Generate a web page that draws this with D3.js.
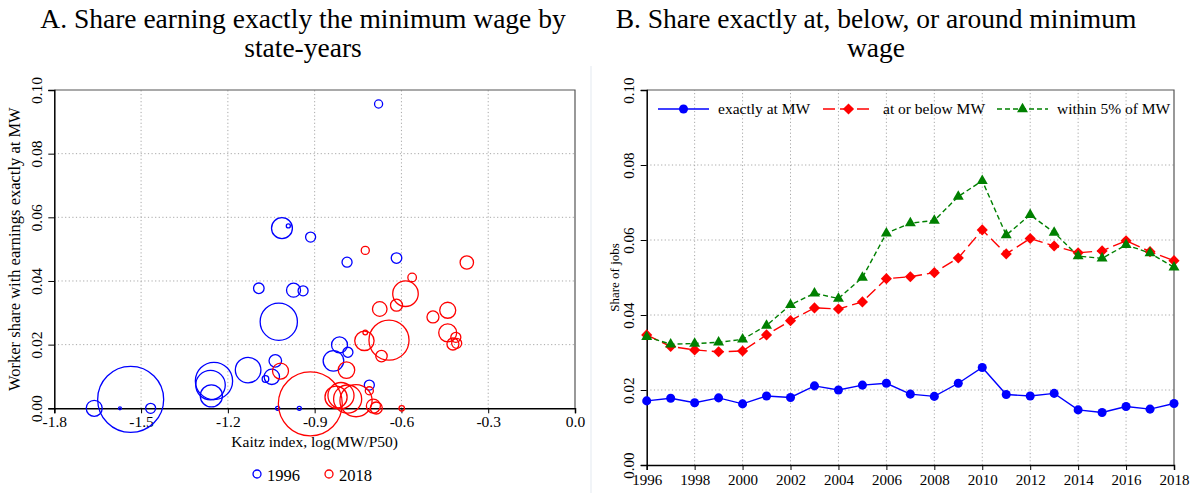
<!DOCTYPE html>
<html>
<head>
<meta charset="utf-8">
<script src="https://cdn.jsdelivr.net/npm/d3@7"></script>
<style>
  body { margin: 0; background: #fff; }
  text { font-family: "Liberation Serif", "Times New Roman", serif; fill: #000; }
</style>
</head>
<body>
<svg id="chart" width="1201" height="493"></svg>
<script>
// Panel A: state-years, kaitz index vs share exactly at MW, bubble = employment weight
var kaitz1996 = [-1.662, -1.536, -1.573, -1.467, -1.248, -1.260, -1.257, -1.130, -1.093, -1.036, -1.048, -1.070, -1.024, -0.973, -0.940, -1.013, -0.991, -0.914, -0.788, -0.617, -0.679, -0.814, -0.785, -0.835, -0.711, -1.028, -0.953];
var share1996 = [0.0000, 0.0028, 0.0000, 0.0000, 0.0086, 0.0073, 0.0039, 0.0120, 0.0377, 0.0149, 0.0099, 0.0092, 0.0272, 0.0371, 0.0369, 0.0566, 0.0573, 0.0538, 0.0459, 0.0472, 0.0956, 0.0199, 0.0176, 0.0149, 0.0073, 0.0000, 0.0000];
var emp1996 = [0.94, 16, 0.03, 0.37, 5.1, 3.2, 1.8, 2.4, 0.41, 0.58, 0.87, 0.16, 5.1, 0.72, 0.37, 1.6, 0.06, 0.37, 0.37, 0.41, 0.24, 0.94, 0.37, 1.56, 0.37, 0.06, 0.06];

var kaitz2018 = [-1.018, -0.915, -0.826, -0.809, -0.786, -0.757, -0.790, -0.711, -0.697, -0.687, -0.599, -0.669, -0.728, -0.725, -0.643, -0.675, -0.617, -0.586, -0.563, -0.725, -0.374, -0.491, -0.440, -0.440, -0.412, -0.422, -0.409];
var share2018 = [0.0117, 0.0014, 0.0035, 0.0040, 0.0029, 0.0024, 0.0120, 0.0055, 0.0007, 0.0001, 0.0000, 0.0164, 0.0212, 0.0238, 0.0214, 0.0312, 0.0324, 0.0360, 0.0411, 0.0496, 0.0458, 0.0287, 0.0308, 0.0237, 0.0223, 0.0202, 0.0204];
var emp2018 = [0.94, 15, 1.8, 2.5, 2.9, 3.8, 1.0, 0.24, 0.72, 0.53, 0.11, 0.48, 1.38, 0.08, 5.9, 0.78, 0.53, 2.4, 0.27, 0.24, 0.66, 0.53, 0.94, 1.19, 0.37, 0.53, 0.37];

var xTicksA = [-1.8, -1.5, -1.2, -0.9, -0.6, -0.3, 0.0];
var yTicksA = [0, 0.02, 0.04, 0.06, 0.08, 0.10];

// Panel B: yearly shares
var years = [1996, 1997, 1998, 1999, 2000, 2001, 2002, 2003, 2004, 2005, 2006, 2007, 2008, 2009, 2010, 2011, 2012, 2013, 2014, 2015, 2016, 2017, 2018];
var exactlyAt = [0.0171, 0.0178, 0.0166, 0.0179, 0.0163, 0.0184, 0.0180, 0.0211, 0.0200, 0.0213, 0.0218, 0.0189, 0.0183, 0.0218, 0.0260, 0.0188, 0.0184, 0.0191, 0.0147, 0.0140, 0.0156, 0.0149, 0.0164];
var atOrBelow = [0.0347, 0.0316, 0.0307, 0.0302, 0.0304, 0.0347, 0.0385, 0.0419, 0.0416, 0.0435, 0.0497, 0.0502, 0.0513, 0.0552, 0.0627, 0.0563, 0.0604, 0.0584, 0.0566, 0.0571, 0.0598, 0.0569, 0.0545];
var within5 = [0.0342, 0.0322, 0.0324, 0.0327, 0.0335, 0.0372, 0.0427, 0.0458, 0.0444, 0.0500, 0.0618, 0.0645, 0.0652, 0.0716, 0.0758, 0.0613, 0.0667, 0.0620, 0.0557, 0.0551, 0.0587, 0.0565, 0.0527];
var xTicksB = [1996, 1998, 2000, 2002, 2004, 2006, 2008, 2010, 2012, 2014, 2016, 2018];
var yTicksB = [0, 0.02, 0.04, 0.06, 0.08, 0.10];

var svg = d3.select("#chart");

// ---------- Panel A ----------
var xA = d3.scaleLinear().domain([-1.8, 0]).range([54.3, 575]);
var yA = d3.scaleLinear().domain([0, 0.1]).range([408.3, 90]);
var rA = d3.scaleSqrt().domain([0, 16]).range([0, 33]);

var gA = svg.append("g");

// dotted grid
gA.append("g").selectAll("line")
  .data(xTicksA.slice(1, -1))
  .enter().append("line")
    .attr("x1", function (d) { return xA(d); })
    .attr("x2", function (d) { return xA(d); })
    .attr("y1", yA(0)).attr("y2", yA(0.1))
    .attr("stroke", "#a8a8a8").attr("stroke-dasharray", "1.2,2.4");
gA.append("g").selectAll("line")
  .data(yTicksA.slice(1, -1))
  .enter().append("line")
    .attr("y1", function (d) { return yA(d); })
    .attr("y2", function (d) { return yA(d); })
    .attr("x1", xA(-1.8)).attr("x2", xA(0))
    .attr("stroke", "#a8a8a8").attr("stroke-dasharray", "1.2,2.4");

// frame top/right
gA.append("path")
  .attr("d", "M" + xA(-1.8) + "," + yA(0.1) + "H" + xA(0) + "V" + yA(0))
  .attr("fill", "none").attr("stroke", "#555").attr("stroke-width", 1.2);

// axes
var axA = gA.append("g")
  .attr("transform", "translate(0," + yA(0) + ")")
  .call(d3.axisBottom(xA).tickValues(xTicksA).tickSize(5).tickPadding(3)
    .tickFormat(function (d) { return d.toFixed(1); }));
var ayA = gA.append("g")
  .attr("transform", "translate(" + xA(-1.8) + ",0)")
  .call(d3.axisLeft(yA).tickValues(yTicksA).tickSize(6)
    .tickFormat(function (d) { return d.toFixed(2); }));
ayA.selectAll(".tick text")
  .attr("transform", "rotate(-90)")
  .attr("x", 0).attr("y", -12).attr("dy", 0)
  .attr("text-anchor", "middle");
gA.selectAll(".tick text").style("font-size", "15.5px");

// bubbles
gA.append("g").selectAll("circle")
  .data(d3.range(kaitz1996.length))
  .enter().append("circle")
    .attr("cx", function (i) { return xA(kaitz1996[i]); })
    .attr("cy", function (i) { return yA(share1996[i]); })
    .attr("r", function (i) { return rA(emp1996[i]); })
    .attr("fill", "none").attr("stroke", "#0000ff").attr("stroke-width", 1.3);
gA.append("g").selectAll("circle")
  .data(d3.range(kaitz2018.length))
  .enter().append("circle")
    .attr("cx", function (i) { return xA(kaitz2018[i]); })
    .attr("cy", function (i) { return yA(share2018[i]); })
    .attr("r", function (i) { return rA(emp2018[i]); })
    .attr("fill", "none").attr("stroke", "#ff0000").attr("stroke-width", 1.3);

// axis labels
gA.append("text")
  .attr("transform", "translate(20," + (yA(0) + yA(0.1)) / 2 + ") rotate(-90)")
  .attr("text-anchor", "middle").style("font-size", "16.5px")
  .text("Worker share with earnings exactly at MW");
gA.append("text")
  .attr("x", (xA(-1.8) + xA(0)) / 2).attr("y", 447)
  .attr("text-anchor", "middle").style("font-size", "15.5px")
  .text("Kaitz index, log(MW/P50)");

// legend
var legA = [{ label: "1996", color: "#0000ff", x: 257 }, { label: "2018", color: "#ff0000", x: 329 }];
legA.forEach(function (l) {
  gA.append("circle").attr("cx", l.x).attr("cy", 474).attr("r", 4)
    .attr("fill", "none").attr("stroke", l.color).attr("stroke-width", 1.3);
  gA.append("text").attr("x", l.x + 10).attr("y", 481).style("font-size", "16.5px").text(l.label);
});

// title
var tA = gA.append("text").attr("text-anchor", "middle").style("font-size", "27.5px");
tA.append("tspan").attr("x", 303).attr("y", 28).text("A. Share earning exactly the minimum wage by");
tA.append("tspan").attr("x", 303).attr("y", 57).text("state-years");

// ---------- Panel B ----------
var xB = d3.scaleLinear().domain([1996, 2018]).range([646.7, 1174]);
var yB = d3.scaleLinear().domain([0, 0.1]).range([465, 90]);

var gB = svg.append("g");

gB.append("line").attr("x1", 591).attr("x2", 591).attr("y1", 66).attr("y2", 493)
  .attr("stroke", "#e3e9f0");

gB.append("g").selectAll("line")
  .data(xTicksB.slice(1, -1))
  .enter().append("line")
    .attr("x1", function (d) { return xB(d); })
    .attr("x2", function (d) { return xB(d); })
    .attr("y1", yB(0)).attr("y2", yB(0.1))
    .attr("stroke", "#a8a8a8").attr("stroke-dasharray", "1.2,2.4");
gB.append("g").selectAll("line")
  .data(yTicksB.slice(1, -1))
  .enter().append("line")
    .attr("y1", function (d) { return yB(d); })
    .attr("y2", function (d) { return yB(d); })
    .attr("x1", xB(1996)).attr("x2", xB(2018))
    .attr("stroke", "#a8a8a8").attr("stroke-dasharray", "1.2,2.4");

gB.append("path")
  .attr("d", "M" + xB(1996) + "," + yB(0.1) + "H" + xB(2018) + "V" + yB(0))
  .attr("fill", "none").attr("stroke", "#555").attr("stroke-width", 1.2);

gB.append("g")
  .attr("transform", "translate(0," + yB(0) + ")")
  .call(d3.axisBottom(xB).tickValues(xTicksB).tickSize(5).tickPadding(4)
    .tickFormat(d3.format("d")));
var ayB = gB.append("g")
  .attr("transform", "translate(" + xB(1996) + ",0)")
  .call(d3.axisLeft(yB).tickValues(yTicksB).tickSize(6)
    .tickFormat(function (d) { return d.toFixed(2); }));
ayB.selectAll(".tick text")
  .attr("transform", "rotate(-90)")
  .attr("x", 0).attr("y", -13).attr("dy", 0)
  .attr("text-anchor", "middle");
gB.selectAll(".tick text").style("font-size", "15px");

svg.selectAll(".domain").attr("stroke", "#000").attr("stroke-width", 1.5);
svg.selectAll(".tick line").attr("stroke", "#000");
svg.selectAll(".tick text").style("font-family", "'Liberation Serif', serif");

var lineB = function (vals) {
  return d3.line()
    .x(function (d, i) { return xB(years[i]); })
    .y(function (d) { return yB(d); })(vals);
};

var series = [
  { vals: exactlyAt, color: "#0000ff", dash: null, sym: d3.symbolCircle, size: 64, rot: 0, label: "exactly at MW", lx: 658 },
  { vals: atOrBelow, color: "#ff0000", dash: "12,5", sym: d3.symbolSquare, size: 62, rot: 45, label: "at or below MW", lx: 823 },
  { vals: within5, color: "#008000", dash: "5,3", sym: d3.symbolTriangle, size: 52, rot: 0, label: "within 5% of MW", lx: 997 }
];

series.forEach(function (s) {
  gB.append("path")
    .attr("d", lineB(s.vals))
    .attr("fill", "none").attr("stroke", s.color).attr("stroke-width", 1.4)
    .attr("stroke-dasharray", s.dash);
  gB.append("g").selectAll("path")
    .data(s.vals)
    .enter().append("path")
      .attr("d", d3.symbol().type(s.sym).size(s.size))
      .attr("transform", function (d, i) { return "translate(" + xB(years[i]) + "," + yB(d) + ") rotate(" + s.rot + ")"; })
      .attr("fill", s.color);

  // legend entry
  gB.append("line").attr("x1", s.lx).attr("x2", s.lx + 51).attr("y1", 109).attr("y2", 109)
    .attr("stroke", s.color).attr("stroke-width", 1.4).attr("stroke-dasharray", s.dash);
  gB.append("path")
    .attr("d", d3.symbol().type(s.sym).size(s.size))
    .attr("transform", "translate(" + (s.lx + 25.5) + ",109) rotate(" + s.rot + ")")
    .attr("fill", s.color);
  gB.append("text").attr("x", s.lx + 60).attr("y", 114).style("font-size", "15.5px").text(s.label);
});

gB.append("text")
  .attr("transform", "translate(619," + (yB(0) + yB(0.1)) / 2 + ") rotate(-90)")
  .attr("text-anchor", "middle").style("font-size", "13px")
  .text("Share of jobs");

var tB = gB.append("text").attr("text-anchor", "middle").style("font-size", "27.5px");
tB.append("tspan").attr("x", 876).attr("y", 28).text("B. Share exactly at, below, or around minimum");
tB.append("tspan").attr("x", 876).attr("y", 57).text("wage");
</script>
</body>
</html>
